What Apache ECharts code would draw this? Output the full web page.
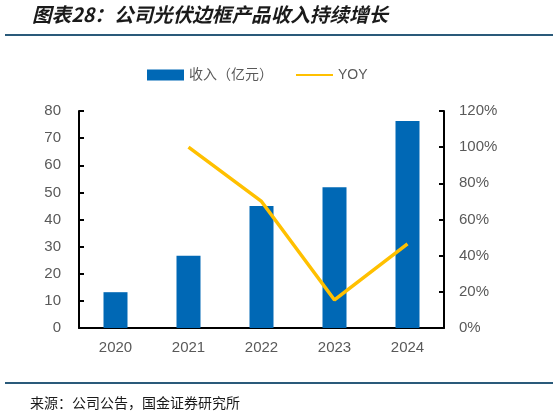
<!DOCTYPE html>
<html><head><meta charset="utf-8">
<script src="https://cdn.jsdelivr.net/npm/echarts@6/dist/echarts.min.js"></script>
<style>html,body{margin:0;padding:0;background:#fff}#c{width:559px;height:416px}</style>
</head><body><div id="c"></div>
<script>
const categories = ['2020','2021','2022','2023','2024'];
const revenue = [13.2, 26.6, 45.0, 51.9, 76.3];
const yoy = [null, 1.00, 0.70, 0.155, 0.465];
const leftTicks = [0, 80, 10];
const rightTicks = [0, 1.2, 0.2];

const chart = echarts.init(document.getElementById('c'));
const gray = '#595959';
const fontFamily = 'Arial, "Liberation Sans", "Noto Sans CJK SC", sans-serif';
chart.setOption({
  animation: false,
  textStyle: {fontFamily},
  graphic: [
    {type:'text', left: 32, top: 5, style:{text:'图表28：公司光伏边框产品收入持续增长', font:'italic bold 19.6px "Noto Sans CJK SC", sans-serif', fill:'#1a1a1a'}},
    {type:'rect', shape:{x:5, y:34, width:548, height:2}, style:{fill:'#2a5a7a'}},
    {type:'rect', shape:{x:5, y:382, width:548, height:2}, style:{fill:'#2a5a7a'}},
    {type:'text', left: 30, top: 396, style:{text:'来源：公司公告，国金证券研究所', font:'14px "Noto Sans CJK SC", sans-serif', fill:'#1a1a1a'}}
  ],
  legend: {
    top: 68, left: 147, padding: 0,
    itemWidth: 37, itemHeight: 11, itemGap: 23,
    textStyle: {color: gray, fontSize: 14, fontFamily},
    data: [
      {name:'收入（亿元）', icon:'rect'},
      {name:'YOY', icon:'path://M0,4 L40,4 L40,6 L0,6 Z'}
    ]
  },
  grid: {left: 79, right: 115, top: 111, bottom: 88},
  xAxis: {
    type: 'category', data: categories,
    axisLine: {lineStyle:{color:'#000', width:2}},
    axisTick: {inside: true, length: 5, lineStyle:{color:'#000', width:2}},
    axisLabel: {color: gray, fontSize: 15, margin: 12}
  },
  yAxis: [
    {type:'value', min:leftTicks[0], max:leftTicks[1], interval:leftTicks[2],
     axisLine:{show:true, lineStyle:{color:'#000', width:2}},
     axisTick:{show:true, inside:true, length:5, lineStyle:{color:'#000', width:2}},
     splitLine:{show:false},
     axisLabel:{color:gray, fontSize:15, margin:18}},
    {type:'value', min:rightTicks[0], max:rightTicks[1], interval:rightTicks[2], position:'right',
     axisLine:{show:true, lineStyle:{color:'#000', width:2}},
     axisTick:{show:true, inside:true, length:5, lineStyle:{color:'#000', width:2}},
     splitLine:{show:false},
     axisLabel:{color:gray, fontSize:15, margin:15, formatter: v => Math.round(v*100)+'%'}}
  ],
  series: [
    {name:'收入（亿元）', type:'bar', data: revenue, barWidth: 24, itemStyle:{color:'#0068B5'}},
    {name:'YOY', type:'line', yAxisIndex:1, data: yoy, symbol:'none', lineStyle:{color:'#FFC000', width:3.5}, itemStyle:{color:'#FFC000'}}
  ]
});
</script></body></html>
